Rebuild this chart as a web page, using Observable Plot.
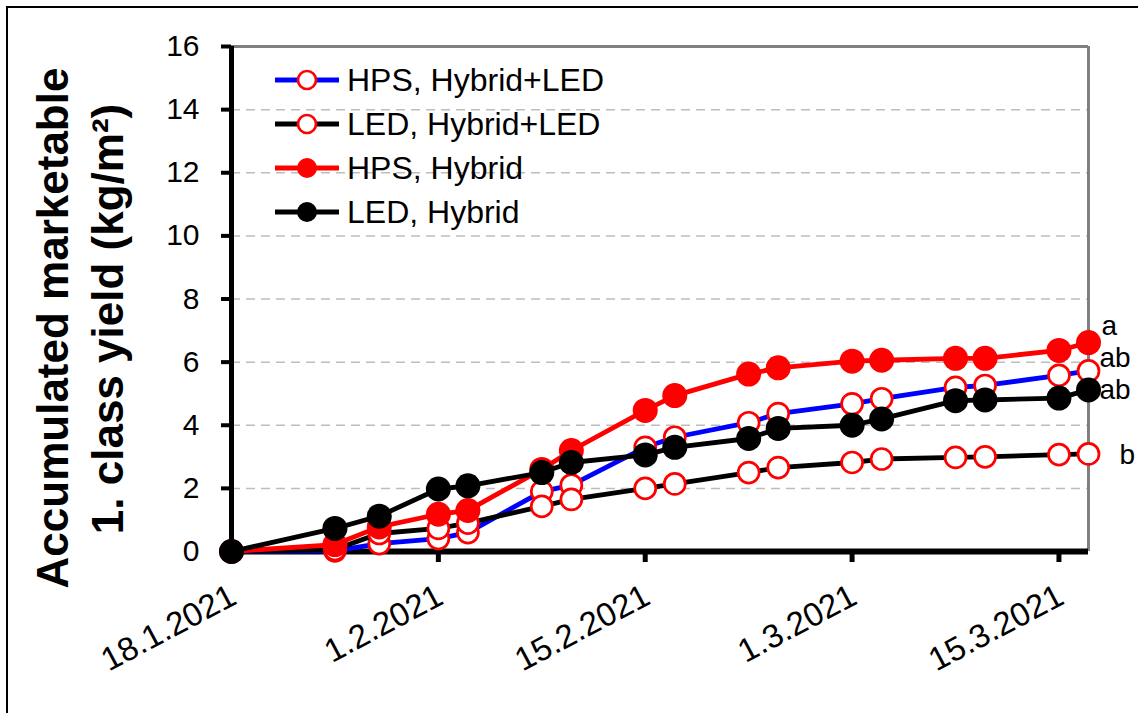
<!DOCTYPE html>
<html>
<head>
<meta charset="utf-8">
<script src="https://cdn.jsdelivr.net/npm/d3@7"></script>
<script src="https://cdn.jsdelivr.net/npm/@observablehq/plot@0.6"></script>
<style>
  html, body { margin: 0; padding: 0; background: #fff; overflow: hidden; }
  #wrap { position: relative; width: 1138px; height: 713px; font-family: "Liberation Sans", Arial, sans-serif; }
  #frame { position: absolute; left: 6px; top: 6px; width: 1200px; height: 800px; border-left: 2px solid #000; border-top: 2px solid #000; }
  #plot { position: absolute; left: 0; top: 0; }
  #legend { position: absolute; left: 273px; top: 58px; }
  .row { display: flex; align-items: center; height: 44px; }
  .row span { font-size: 32px; color: #000; margin-left: 6px; line-height: 44px; }
</style>
</head>
<body>
<div id="wrap">
  <div id="frame"></div>
  <div id="plot"></div>
  <div id="legend"></div>
</div>
<script>
const dates = ["2021-01-18", "2021-01-25", "2021-01-28", "2021-02-01", "2021-02-03", "2021-02-08",
  "2021-02-10", "2021-02-15", "2021-02-17", "2021-02-22", "2021-02-24", "2021-03-01",
  "2021-03-03", "2021-03-08", "2021-03-10", "2021-03-15", "2021-03-17"];

const hpsHybridLed = [0, 0.02, 0.25, 0.41, 0.6, 1.9, 2.1, 3.3, 3.62, 4.08, 4.37, 4.68, 4.84, 5.2, 5.26, 5.58, 5.72];
const ledHybridLed = [0, 0.06, 0.57, 0.73, 0.9, 1.43, 1.65, 2.0, 2.14, 2.5, 2.66, 2.82, 2.93, 2.98, 3.0, 3.07, 3.09];
const hpsHybrid = [0, 0.22, 0.78, 1.18, 1.3, 2.6, 3.2, 4.47, 4.94, 5.62, 5.82, 6.03, 6.06, 6.12, 6.12, 6.37, 6.62];
const ledHybrid = [0, 0.73, 1.12, 1.98, 2.08, 2.5, 2.82, 3.06, 3.3, 3.58, 3.9, 4.0, 4.2, 4.78, 4.8, 4.86, 5.12];

const seriesNames = ["HPS, Hybrid+LED", "LED, Hybrid+LED", "HPS, Hybrid", "LED, Hybrid"];
const sigLetters = ["ab", "b", "a", "ab"];

const yTicks = [0, 2, 4, 6, 8, 10, 12, 14, 16];
const gridTicks = [2, 4, 6, 8, 10, 12, 14];
const xTickDates = ["2021-01-18", "2021-02-01", "2021-02-15", "2021-03-01", "2021-03-15"];
const xTickLabels = ["18.1.2021", "1.2.2021", "15.2.2021", "1.3.2021", "15.3.2021"];
const xDomain = ["2021-01-18", "2021-03-17"];
const titleLines = ["Accumulated marketable", "1. class yield (kg/m\u00b2)"];

const parse = d3.utcParse("%Y-%m-%d");

const styles = [
  {line: "#0000ff", fill: "#fff", stroke: "#ff0000", r: 10.5, sw: 2.7, lx: 11, ly: -13},
  {line: "#000", fill: "#fff", stroke: "#ff0000", r: 10.5, sw: 2.7, lx: 31, ly: 1},
  {line: "#ff0000", fill: "#ff0000", stroke: "none", r: 12.5, sw: 0, lx: 13, ly: -17},
  {line: "#000", fill: "#000", stroke: "none", r: 12.5, sw: 0, lx: 11, ly: 0}
];

const allValues = [hpsHybridLed, ledHybridLed, hpsHybrid, ledHybrid];
const series = allValues.map((vals, k) =>
  vals.map((v, i) => ({date: parse(dates[i]), value: v, name: seriesNames[k]})));

const seriesMarks = series.flatMap((rows, k) => {
  const s = styles[k];
  const last = rows[rows.length - 1];
  return [
    Plot.line(rows, {x: "date", y: "value", stroke: s.line, strokeWidth: 4.8}),
    Plot.dot(rows, {x: "date", y: "value", r: s.r, fill: s.fill, stroke: s.stroke, strokeWidth: s.sw}),
    Plot.text([last], {x: "date", y: "value", text: () => sigLetters[k], textAnchor: "start",
      dx: s.lx, dy: s.ly, fontSize: 28, fill: "#000"})
  ];
});

const xTicks = xTickDates.map(parse);

const plot = Plot.plot({
  width: 1138,
  height: 713,
  marginLeft: 231,
  marginRight: 50,
  marginTop: 46,
  marginBottom: 162,
  style: {
    background: "transparent",
    fontFamily: "'Liberation Sans', Arial, sans-serif",
    fontSize: "30px",
    color: "#000"
  },
  x: {type: "utc", domain: xDomain.map(parse)},
  y: {domain: [0, 16]},
  marks: [
    Plot.ruleY(gridTicks, {stroke: "#bdbdbd", strokeWidth: 1.5, strokeDasharray: "9,6"}),
    Plot.ruleY([16], {stroke: "#808080", strokeWidth: 3}),
    Plot.ruleX([parse(xDomain[1])], {stroke: "#808080", strokeWidth: 3}),
    Plot.axisY({ticks: yTicks, tickSize: 10, tickPadding: 22, strokeWidth: 4, fontSize: 30,
      tickFormat: d => String(d), label: null}),
    Plot.axisX({ticks: xTicks, tickSize: 11, strokeWidth: 5, tickFormat: () => "", label: null}),
    Plot.ruleX([parse(xDomain[0])], {stroke: "#000", strokeWidth: 5}),
    Plot.ruleY([0], {stroke: "#000", strokeWidth: 6}),
    Plot.text(xTicks, {x: d => d, frameAnchor: "bottom", text: (d, i) => xTickLabels[i],
      rotate: -28, textAnchor: "end", lineAnchor: "middle", dx: 2, dy: 42, fontSize: 33}),
    Plot.text([titleLines[0]], {frameAnchor: "left", text: d => d, rotate: -90, dx: -178, dy: 29,
      fontSize: 44, fontWeight: "bold", textAnchor: "middle", lineAnchor: "middle"}),
    Plot.text([titleLines[1]], {frameAnchor: "left", text: d => d, rotate: -90, dx: -123, dy: 20,
      fontSize: 44, fontWeight: "bold", textAnchor: "middle", lineAnchor: "middle"}),
    ...seriesMarks
  ]
});

document.getElementById("plot").appendChild(plot);

// legend sits inside the plot area, top-left
const legend = document.getElementById("legend");
seriesNames.forEach((name, k) => {
  const s = styles[k];
  const row = document.createElement("div");
  row.className = "row";
  const r = s.stroke === "none" ? 10 : 9;
  row.innerHTML =
    `<svg width="68" height="30"><line x1="2" y1="15" x2="66" y2="15" stroke="${s.line}" stroke-width="5"/>` +
    `<circle cx="34" cy="15" r="${r}" fill="${s.fill}" stroke="${s.stroke}" stroke-width="${s.sw}"/></svg>` +
    `<span>${name}</span>`;
  legend.appendChild(row);
});
</script>
</body>
</html>
